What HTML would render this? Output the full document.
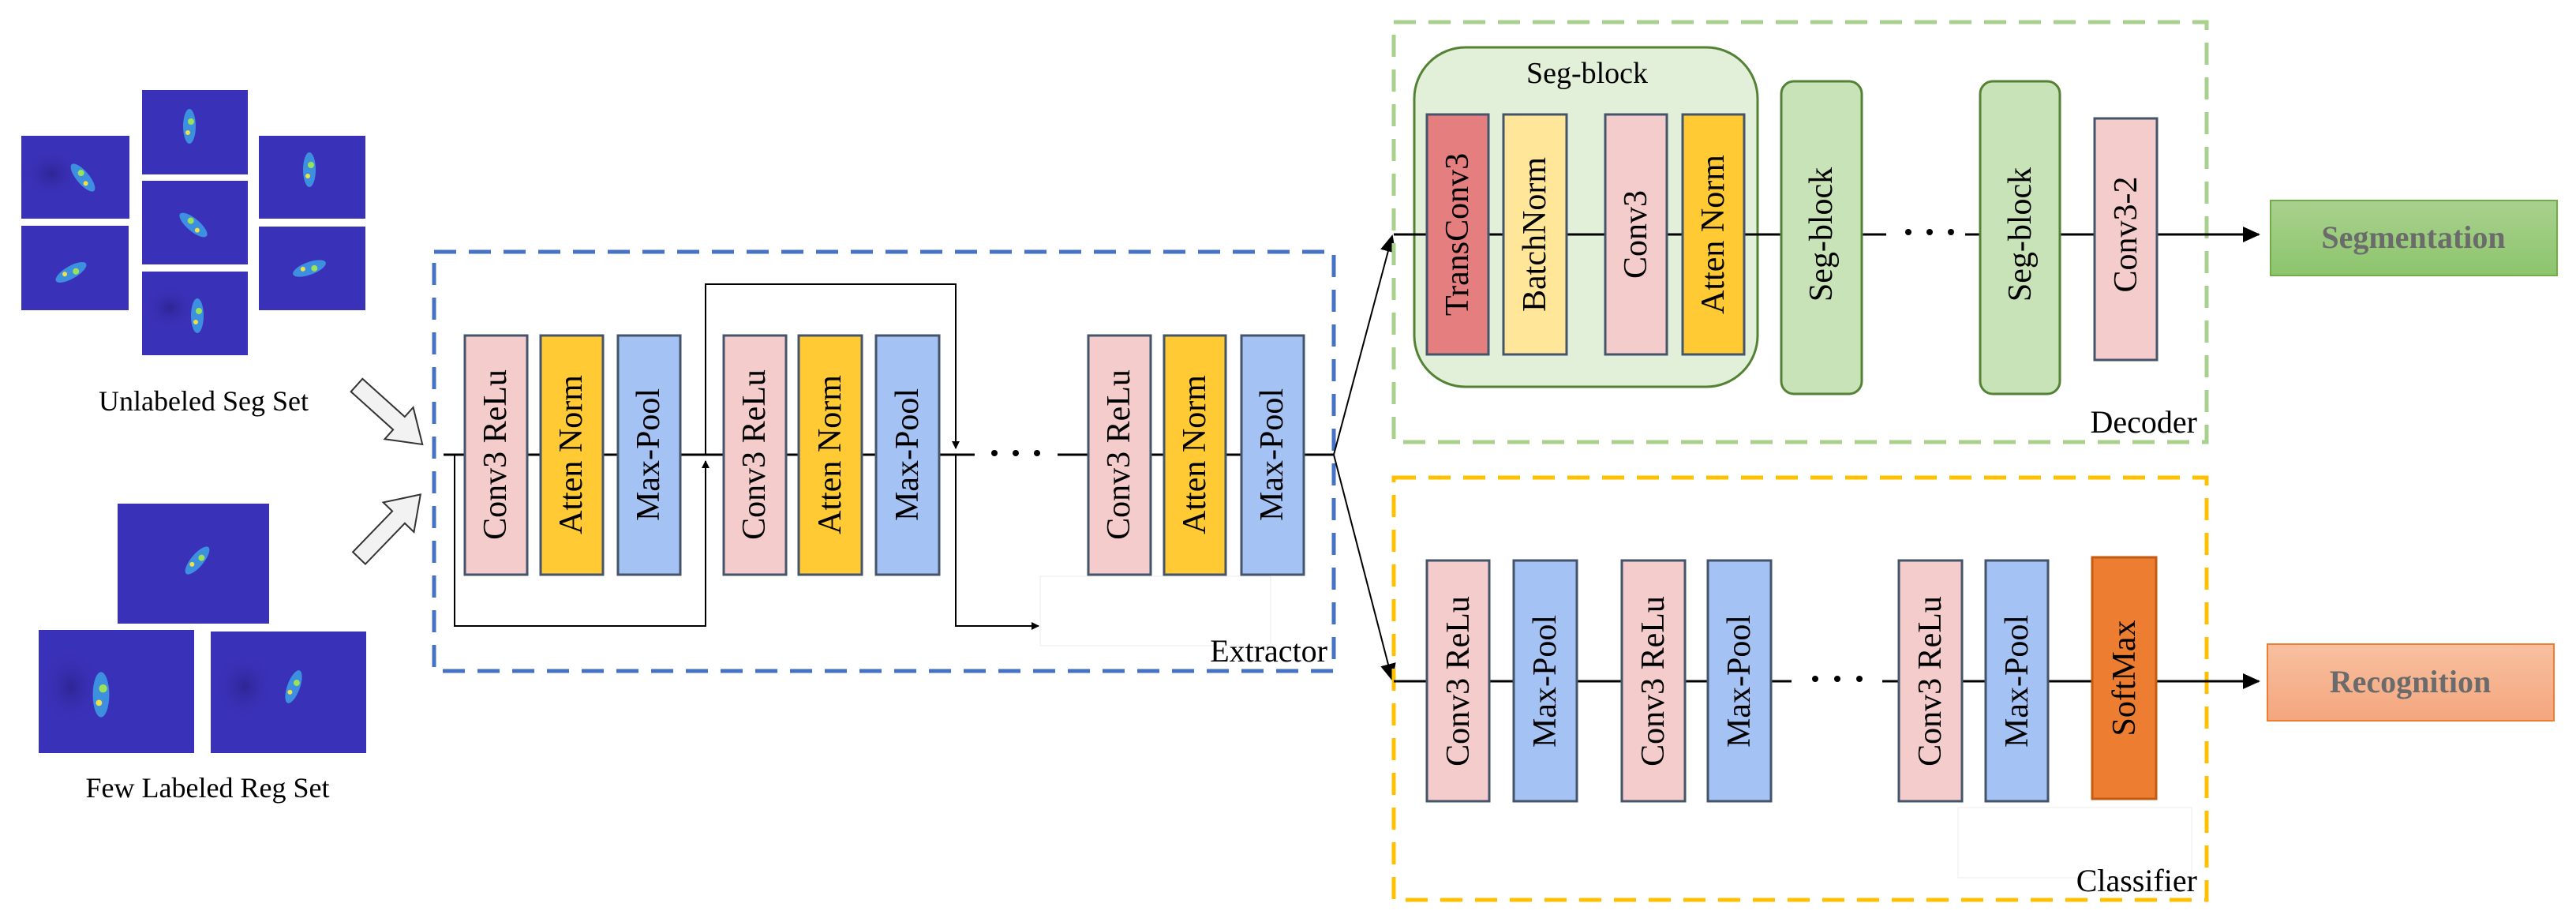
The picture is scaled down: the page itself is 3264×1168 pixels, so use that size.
<!DOCTYPE html>
<html><head><meta charset="utf-8"><style>
html,body{margin:0;padding:0;background:#fff;width:3264px;height:1168px;overflow:hidden}
svg text{font-family:"Liberation Serif","DejaVu Serif",serif !important;fill:#000}
</style></head><body>
<svg width="3264" height="1168" viewBox="0 0 3264 1168" xmlns="http://www.w3.org/2000/svg" font-family="Liberation Serif, DejaVu Serif, serif">
<defs>
<marker id="ah" markerWidth="10" markerHeight="10" refX="9" refY="5" orient="auto" markerUnits="userSpaceOnUse"><path d="M0,0 L10,5 L0,10 z" fill="#000"/></marker>
<marker id="ahb" markerWidth="22" markerHeight="20" refX="20" refY="10" orient="auto" markerUnits="userSpaceOnUse"><path d="M0,0 L22,10 L0,20 z" fill="#000"/></marker>
<linearGradient id="gg" x1="0" y1="0" x2="0" y2="1"><stop offset="0" stop-color="#A9D18E"/><stop offset="1" stop-color="#8CC56C"/></linearGradient>
<linearGradient id="go" x1="0" y1="0" x2="0" y2="1"><stop offset="0" stop-color="#F8C0A0"/><stop offset="1" stop-color="#F4A67E"/></linearGradient>
<radialGradient id="dk"><stop offset="0" stop-color="#2E2596"/><stop offset="1" stop-color="#3A31B9" stop-opacity="0"/></radialGradient>
<g id="spots"><ellipse cx="0" cy="0" rx="8" ry="22" fill="#3FA7E8" opacity="0.8"/><circle cx="2" cy="-6" r="4" fill="#9BE25A"/><circle cx="-2" cy="8" r="3" fill="#F0E04A"/></g>
<polygon id="harrow" points="0,-11 72,-11 72,-27 112,0 72,27 72,11 0,11" fill="#f2f2f2" stroke="#333" stroke-width="2"/>
</defs>

<!-- images -->
<g>
<rect x="27" y="172" width="137" height="105" fill="#3A31B9"/><ellipse cx="65" cy="220" rx="40" ry="32" fill="url(#dk)"/><use href="#spots" transform="translate(105,225) rotate(-40)"/>
<rect x="180" y="114" width="134" height="107" fill="#3A31B9"/><use href="#spots" transform="translate(240,160)"/>
<rect x="328" y="172" width="135" height="105" fill="#3A31B9"/><use href="#spots" transform="translate(392,215)"/>
<rect x="27" y="286" width="136" height="107" fill="#3A31B9"/><use href="#spots" transform="translate(90,345) rotate(60)"/>
<rect x="180" y="229" width="134" height="106" fill="#3A31B9"/><use href="#spots" transform="translate(245,285) rotate(-50)"/>
<rect x="328" y="287" width="135" height="106" fill="#3A31B9"/><use href="#spots" transform="translate(392,340) rotate(70)"/>
<rect x="180" y="344" width="134" height="106" fill="#3A31B9"/><ellipse cx="215" cy="390" rx="35" ry="30" fill="url(#dk)"/><use href="#spots" transform="translate(250,400)"/>
<rect x="149" y="638" width="192" height="152" fill="#3A31B9"/><use href="#spots" transform="translate(250,710) rotate(40)"/>
<rect x="49" y="798" width="197" height="156" fill="#3A31B9"/><ellipse cx="90" cy="870" rx="40" ry="50" fill="url(#dk)"/><use href="#spots" transform="translate(128,880) scale(1.3)"/>
<rect x="267" y="800" width="197" height="154" fill="#3A31B9"/><ellipse cx="310" cy="870" rx="40" ry="45" fill="url(#dk)"/><use href="#spots" transform="translate(372,870) rotate(20)"/>
</g>
<text x="258" y="520" font-size="36" text-anchor="middle">Unlabeled Seg Set</text>
<text x="263" y="1010" font-size="36" text-anchor="middle">Few Labeled Reg Set</text>

<!-- hollow arrows -->
<use href="#harrow" transform="translate(452,488) rotate(42)"/>
<use href="#harrow" transform="translate(455,707) rotate(-46)"/>

<!-- Extractor -->
<rect x="550" y="319" width="1140" height="531" fill="none" stroke="#4472C4" stroke-width="5" stroke-dasharray="28,16"/>
<rect x="1318" y="730" width="292" height="88" fill="#fff" stroke="#eee" stroke-width="1"/>
<line x1="562" y1="576" x2="1235" y2="576" stroke="#000" stroke-width="3"/>
<line x1="1340" y1="576" x2="1690" y2="576" stroke="#000" stroke-width="3"/>
<polyline points="576,576 576,793 894,793 894,584" fill="none" stroke="#000" stroke-width="2" marker-end="url(#ah)"/>
<polyline points="894,576 894,360 1211,360 1211,568" fill="none" stroke="#000" stroke-width="2" marker-end="url(#ah)"/>
<polyline points="1211,576 1211,793 1316,793" fill="none" stroke="#000" stroke-width="2" marker-end="url(#ah)"/>
<g fill="#000"><circle cx="1260" cy="574" r="4"/><circle cx="1287" cy="574" r="4"/><circle cx="1314" cy="574" r="4"/></g>
<g stroke="#44546A" stroke-width="3">
<rect x="589" y="425" width="79" height="303" fill="#F4CCCC"/>
<rect x="685" y="425" width="79" height="303" fill="#FFCA33"/>
<rect x="783" y="425" width="79" height="303" fill="#A4C2F4"/>
<rect x="917" y="425" width="79" height="303" fill="#F4CCCC"/>
<rect x="1012" y="425" width="80" height="303" fill="#FFCA33"/>
<rect x="1110" y="425" width="80" height="303" fill="#A4C2F4"/>
<rect x="1379" y="425" width="79" height="303" fill="#F4CCCC"/>
<rect x="1475" y="425" width="78" height="303" fill="#FFCA33"/>
<rect x="1573" y="425" width="79" height="303" fill="#A4C2F4"/>
</g>
<g font-size="42" text-anchor="middle" dominant-baseline="central">
<text transform="translate(628,576) rotate(-90)">Conv3 ReLu</text>
<text transform="translate(724,576) rotate(-90)">Atten Norm</text>
<text transform="translate(822,576) rotate(-90)">Max-Pool</text>
<text transform="translate(956,576) rotate(-90)">Conv3 ReLu</text>
<text transform="translate(1052,576) rotate(-90)">Atten Norm</text>
<text transform="translate(1150,576) rotate(-90)">Max-Pool</text>
<text transform="translate(1418,576) rotate(-90)">Conv3 ReLu</text>
<text transform="translate(1514,576) rotate(-90)">Atten Norm</text>
<text transform="translate(1612,576) rotate(-90)">Max-Pool</text>
</g>
<text x="1682" y="838" font-size="40" text-anchor="end">Extractor</text>

<!-- fan out -->
<line x1="1690" y1="576" x2="1764" y2="299" stroke="#000" stroke-width="2" marker-end="url(#ahb)"/>
<line x1="1690" y1="576" x2="1764" y2="861" stroke="#000" stroke-width="2" marker-end="url(#ahb)"/>

<!-- Decoder -->
<rect x="1766" y="28" width="1030" height="532" fill="none" stroke="#A9D18E" stroke-width="5" stroke-dasharray="28,16"/>
<rect x="1792" y="60" width="435" height="430" rx="65" fill="#E2F0D9" stroke="#548235" stroke-width="3"/>
<text x="2011" y="105" font-size="38" text-anchor="middle">Seg-block</text>
<line x1="1766" y1="297" x2="2390" y2="297" stroke="#000" stroke-width="3"/>
<line x1="2490" y1="297" x2="2862" y2="297" stroke="#000" stroke-width="3" marker-end="url(#ahb)"/>
<g fill="#000"><circle cx="2418" cy="294" r="4"/><circle cx="2445" cy="294" r="4"/><circle cx="2472" cy="294" r="4"/></g>
<g stroke="#44546A" stroke-width="3">
<rect x="1808" y="145" width="78" height="304" fill="#E57F7F"/>
<rect x="1905" y="145" width="80" height="304" fill="#FFE699"/>
<rect x="2034" y="145" width="78" height="304" fill="#F4CCCC"/>
<rect x="2132" y="145" width="78" height="304" fill="#FFCA33"/>
<rect x="2654" y="150" width="79" height="306" fill="#F4CCCC"/>
</g>
<rect x="2257" y="103" width="102" height="396" rx="16" fill="#C9E3B8" stroke="#548235" stroke-width="3"/>
<rect x="2509" y="103" width="101" height="396" rx="16" fill="#C9E3B8" stroke="#548235" stroke-width="3"/>
<g font-size="42" text-anchor="middle" dominant-baseline="central">
<text transform="translate(1847,297) rotate(-90)">TransConv3</text>
<text transform="translate(1945,297) rotate(-90)">BatchNorm</text>
<text transform="translate(2073,297) rotate(-90)">Conv3</text>
<text transform="translate(2171,297) rotate(-90)">Atten Norm</text>
<text transform="translate(2308,297) rotate(-90)">Seg-block</text>
<text transform="translate(2560,297) rotate(-90)">Seg-block</text>
<text transform="translate(2694,297) rotate(-90)">Conv3-2</text>
</g>
<text x="2784" y="548" font-size="40" text-anchor="end">Decoder</text>
<rect x="2877" y="254" width="363" height="95" fill="url(#gg)" stroke="#70AD47" stroke-width="2"/>
<text x="3058" y="314" font-size="40" font-weight="bold" text-anchor="middle" style="fill:#6B6B6B">Segmentation</text>

<!-- Classifier -->
<rect x="1766" y="605" width="1030" height="535" fill="none" stroke="#FFC000" stroke-width="5" stroke-dasharray="28,16"/>
<rect x="2481" y="1023" width="296" height="89" fill="#fff" stroke="#eee" stroke-width="1"/>
<line x1="1766" y1="863" x2="2270" y2="863" stroke="#000" stroke-width="3"/>
<line x1="2385" y1="863" x2="2862" y2="863" stroke="#000" stroke-width="3" marker-end="url(#ahb)"/>
<g fill="#000"><circle cx="2300" cy="860" r="4"/><circle cx="2328" cy="860" r="4"/><circle cx="2356" cy="860" r="4"/></g>
<g stroke="#44546A" stroke-width="3">
<rect x="1808" y="710" width="79" height="305" fill="#F4CCCC"/>
<rect x="1918" y="710" width="80" height="305" fill="#A4C2F4"/>
<rect x="2055" y="710" width="80" height="305" fill="#F4CCCC"/>
<rect x="2164" y="710" width="80" height="305" fill="#A4C2F4"/>
<rect x="2406" y="710" width="80" height="305" fill="#F4CCCC"/>
<rect x="2516" y="710" width="79" height="305" fill="#A4C2F4"/>
</g>
<rect x="2651" y="706" width="81" height="306" fill="#ED7D31" stroke="#C55A11" stroke-width="3"/>
<g font-size="42" text-anchor="middle" dominant-baseline="central">
<text transform="translate(1848,863) rotate(-90)">Conv3 ReLu</text>
<text transform="translate(1958,863) rotate(-90)">Max-Pool</text>
<text transform="translate(2095,863) rotate(-90)">Conv3 ReLu</text>
<text transform="translate(2204,863) rotate(-90)">Max-Pool</text>
<text transform="translate(2446,863) rotate(-90)">Conv3 ReLu</text>
<text transform="translate(2556,863) rotate(-90)">Max-Pool</text>
<text transform="translate(2692,859) rotate(-90)">SoftMax</text>
</g>
<text x="2784" y="1129" font-size="40" text-anchor="end">Classifier</text>
<rect x="2873" y="816" width="363" height="97" fill="url(#go)" stroke="#ED7D31" stroke-width="2"/>
<text x="3054" y="877" font-size="40" font-weight="bold" text-anchor="middle" style="fill:#6B6B6B">Recognition</text>
</svg>
</body></html>
